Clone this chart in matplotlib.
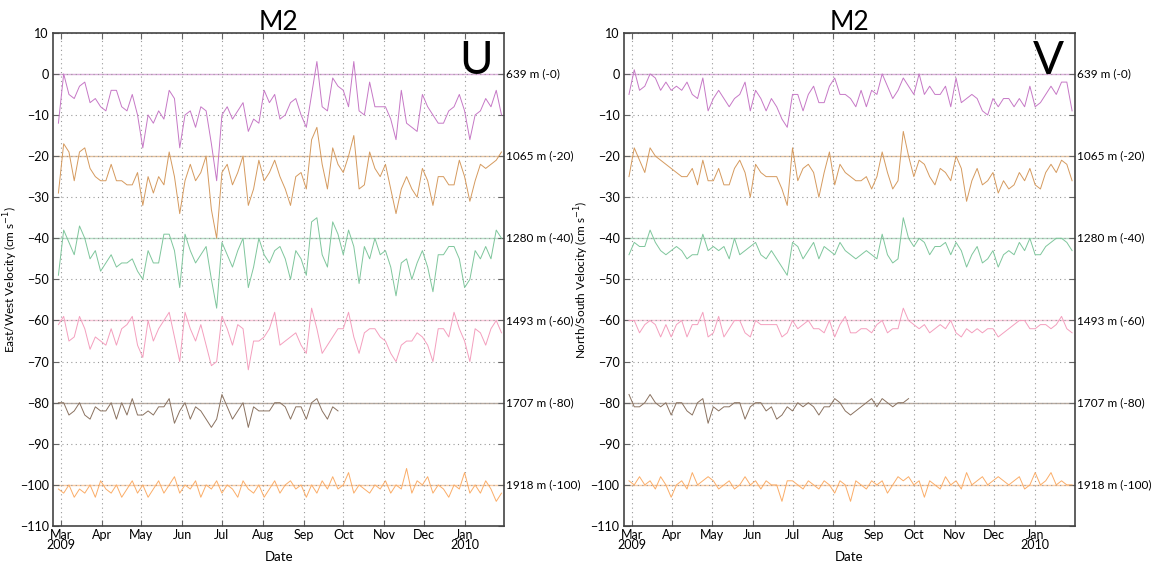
import matplotlib
matplotlib.use("Agg")
import matplotlib.pyplot as plt
import pandas as pd

plt.rcParams['font.family'] = ['Lato', 'DejaVu Sans']

# sampled every 4 days from 2009-02-27
dates = pd.date_range('2009-02-27', periods=85, freq='4D')

depths = ['639 m (-0)', '1065 m (-20)', '1280 m (-40)', '1493 m (-60)', '1707 m (-80)', '1918 m (-100)']
offsets = [0, -20, -40, -60, -80, -100]
colors = ['#c678c6', '#d59a5e', '#7fc69c', '#f49fbe', '#8a7260', '#fbad68']

# East/West (U), already offset
u_639 = [-12, 0, -5, -6, -3, -2, -7, -6, -8, -9,
         -4, -4, -8, -9, -5, -10, -18, -10, -12, -9,
         -11, -4, -6, -18, -10, -9, -13, -8, -9, -17,
         -26, -10, -8, -11, -9, -7, -14, -11, -12, -4,
         -7, -5, -11, -10, -7, -6, -10, -13, -5, 3,
         -8, -9, -1, -3, -4, -8, 3, -9, -10, -2,
         -8, -8, -8, -11, -16, -4, -12, -13, -14, -5,
         -8, -10, -12, -12, -9, -8, -5, -9, -16, -10,
         -9, -6, -8, -4, -10]
u_1065 = [-29, -17, -19, -26, -19, -18, -23, -25, -26, -26,
          -22, -26, -26, -27, -27, -24, -32, -25, -29, -25,
          -27, -19, -25, -34, -26, -22, -26, -24, -20, -33,
          -40, -24, -22, -27, -24, -20, -32, -28, -21, -26,
          -24, -21, -25, -28, -32, -25, -24, -28, -16, -13,
          -22, -28, -18, -22, -24, -20, -15, -28, -27, -19,
          -23, -25, -22, -28, -34, -28, -25, -28, -30, -23,
          -26, -32, -25, -25, -27, -27, -21, -25, -31, -26,
          -22, -23, -22, -21, -19]
u_1280 = [-49, -38, -41, -44, -37, -40, -45, -43, -48, -46,
          -44, -47, -46, -46, -45, -48, -50, -43, -46, -46,
          -39, -39, -43, -52, -39, -43, -46, -44, -42, -50,
          -57, -41, -44, -47, -43, -40, -52, -47, -40, -44,
          -46, -43, -42, -45, -50, -43, -45, -49, -36, -35,
          -44, -47, -36, -39, -44, -38, -42, -51, -42, -45,
          -40, -44, -43, -47, -54, -46, -45, -50, -46, -43,
          -47, -53, -44, -44, -42, -42, -45, -52, -50, -43,
          -45, -42, -45, -38, -40]
u_1493 = [-61, -59, -65, -64, -59, -62, -67, -64, -65, -66,
          -62, -66, -62, -61, -59, -66, -69, -60, -65, -62,
          -60, -58, -64, -70, -58, -62, -65, -61, -66, -71,
          -70, -59, -62, -66, -61, -62, -72, -65, -65, -64,
          -62, -58, -66, -65, -64, -63, -66, -68, -57, -62,
          -68, -66, -64, -62, -62, -58, -64, -68, -63, -62,
          -62, -64, -65, -68, -70, -66, -65, -65, -63, -64,
          -66, -70, -62, -62, -64, -58, -62, -65, -70, -62,
          -63, -66, -62, -60, -63]
u_1707 = [-80, -80, -83, -82, -80, -83, -84, -81, -82, -82,
          -80, -84, -80, -83, -79, -83, -83, -82, -83, -81,
          -81, -79, -85, -82, -80, -84, -81, -82, -84, -86,
          -84, -78, -81, -84, -82, -80, -86, -81, -82, -82,
          -82, -80, -80, -81, -84, -81, -81, -84, -80, -79,
          -82, -84, -81, -82]
u_1918 = [-101, -102, -100, -103, -101, -102, -100, -103, -99, -101,
          -102, -100, -103, -101, -99, -102, -100, -103, -101, -99,
          -102, -100, -98, -102, -100, -101, -99, -103, -100, -101,
          -99, -102, -100, -101, -103, -99, -101, -102, -100, -103,
          -101, -99, -102, -100, -99, -101, -100, -103, -100, -102,
          -99, -101, -98, -101, -100, -97, -102, -100, -101, -102,
          -100, -101, -99, -102, -100, -101, -96, -102, -99, -100,
          -98, -102, -100, -101, -103, -100, -101, -97, -102, -100,
          -102, -99, -101, -104, -102]

# North/South (V), already offset
v_639 = [-5, 1, -4, -3, 0, -1, -4, -2, -4, -3,
         -4, -2, -5, -6, -1, -9, -6, -4, -6, -8,
         -6, -5, -2, -9, -4, -6, -9, -6, -8, -11,
         -13, -5, -5, -9, -5, -3, -7, -7, -3, -1,
         -5, -5, -6, -8, -4, -8, -4, -5, 0, -3,
         -6, -4, -1, -3, -5, 0, -5, -3, -5, -5,
         -3, -8, -1, -7, -6, -5, -6, -9, -10, -6,
         -8, -6, -6, -8, -6, -8, -3, -8, -7, -5,
         -3, -5, -2, -2, -9]
v_1065 = [-25, -18, -21, -24, -18, -20, -21, -22, -23, -24,
          -25, -25, -23, -27, -21, -26, -26, -23, -27, -27,
          -23, -21, -24, -30, -22, -24, -25, -25, -25, -28,
          -32, -18, -26, -23, -22, -24, -30, -24, -19, -27,
          -22, -24, -25, -26, -26, -25, -28, -25, -19, -24,
          -28, -26, -14, -20, -25, -21, -22, -25, -27, -23,
          -24, -26, -20, -23, -31, -26, -23, -27, -26, -24,
          -29, -26, -28, -27, -24, -26, -23, -27, -28, -24,
          -22, -24, -21, -22, -26]
v_1280 = [-44, -41, -42, -42, -38, -41, -43, -44, -43, -42,
          -43, -45, -44, -44, -39, -43, -42, -43, -42, -45,
          -40, -44, -43, -42, -41, -44, -45, -43, -45, -47,
          -49, -41, -42, -45, -43, -41, -45, -42, -43, -44,
          -41, -43, -44, -45, -44, -43, -44, -45, -39, -44,
          -46, -45, -35, -40, -42, -40, -41, -44, -42, -42,
          -41, -44, -41, -43, -47, -44, -42, -46, -45, -43,
          -47, -44, -43, -44, -41, -43, -40, -44, -44, -42,
          -41, -40, -40, -41, -43]
v_1493 = [-60, -60, -63, -61, -60, -61, -64, -61, -64, -61,
          -60, -64, -61, -61, -58, -64, -63, -59, -64, -62,
          -60, -60, -63, -64, -60, -61, -61, -61, -61, -64,
          -63, -60, -62, -61, -60, -62, -62, -63, -60, -64,
          -61, -59, -63, -63, -62, -62, -63, -61, -60, -63,
          -62, -62, -57, -60, -61, -62, -61, -63, -62, -61,
          -62, -60, -63, -64, -62, -63, -62, -63, -62, -62,
          -64, -63, -62, -61, -60, -60, -62, -62, -61, -61,
          -62, -61, -59, -62, -63]
v_1707 = [-78, -81, -81, -80, -78, -80, -81, -80, -83, -80,
          -80, -82, -83, -80, -79, -85, -81, -82, -81, -81,
          -80, -80, -84, -81, -80, -80, -82, -81, -84, -83,
          -81, -82, -80, -81, -80, -81, -83, -81, -81, -79,
          -80, -82, -83, -82, -81, -80, -79, -81, -79, -80,
          -81, -80, -80, -79]
v_1918 = [-99, -100, -98, -100, -99, -101, -98, -100, -103, -100,
          -99, -101, -97, -100, -99, -98, -99, -101, -100, -99,
          -101, -100, -98, -100, -99, -101, -99, -100, -100, -104,
          -99, -99, -100, -101, -99, -100, -101, -99, -100, -102,
          -99, -100, -104, -99, -100, -101, -99, -100, -99, -102,
          -100, -98, -99, -98, -100, -99, -103, -99, -100, -101,
          -98, -100, -99, -101, -97, -100, -99, -98, -100, -99,
          -98, -99, -100, -99, -98, -101, -100, -97, -100, -99,
          -97, -100, -99, -100, -100]

u_series = [u_639, u_1065, u_1280, u_1493, u_1707, u_1918]
v_series = [v_639, v_1065, v_1280, v_1493, v_1707, v_1918]

fig = plt.figure(figsize=(11.55, 5.65), dpi=100)
ax_u = fig.add_axes([0.046, 0.069, 0.3905, 0.873])
ax_v = fig.add_axes([0.540, 0.069, 0.3905, 0.873])

month_starts = pd.date_range('2009-03-01', '2010-01-01', freq='MS')
month_labels = ['Mar\n2009', 'Apr', 'May', 'Jun', 'Jul', 'Aug', 'Sep', 'Oct', 'Nov', 'Dec', 'Jan\n2010']

for ax, series, comp, ylab in [(ax_u, u_series, 'U', 'East/West Velocity (cm s$^{-1}$)'),
                               (ax_v, v_series, 'V', 'North/South Velocity (cm s$^{-1}$)')]:
    for vals, off, col, lab in zip(series, offsets, colors, depths):
        ax.axhline(off, color=col, lw=1.0, alpha=0.6, zorder=1)
        ax.plot(dates[:len(vals)], vals, color=col, lw=0.7, zorder=3)
        ax.text(1.005, off, lab, transform=ax.get_yaxis_transform(),
                va='center', ha='left', fontsize=8.5)
    ax.set_xlim(pd.Timestamp('2009-02-23'), pd.Timestamp('2010-01-31'))
    ax.set_ylim(-110, 10)
    ax.set_yticks(range(-110, 11, 10))
    ax.set_xticks(month_starts)
    ax.set_xticklabels(month_labels, linespacing=0.85)
    ax.grid(True, color='#999999', linestyle=(0, (1, 3)), lw=0.8, zorder=2)
    ax.tick_params(direction='in', top=True, right=True, length=4, labelsize=9,
                   color='#666666', pad=3)
    ax.xaxis.set_tick_params(pad=2)
    for s in ax.spines.values():
        s.set_color('#444444')
        s.set_linewidth(1.2)
    ax.set_title('M2', fontsize=19, pad=2)
    ax.set_xlabel('Date', fontsize=9.5, labelpad=0)
    ax.set_ylabel(ylab, fontsize=8.5, labelpad=0)
    ax.text(0.975, 0.985, comp, transform=ax.transAxes, ha='right', va='top', fontsize=33)

fig.savefig('out.png', dpi=100)
